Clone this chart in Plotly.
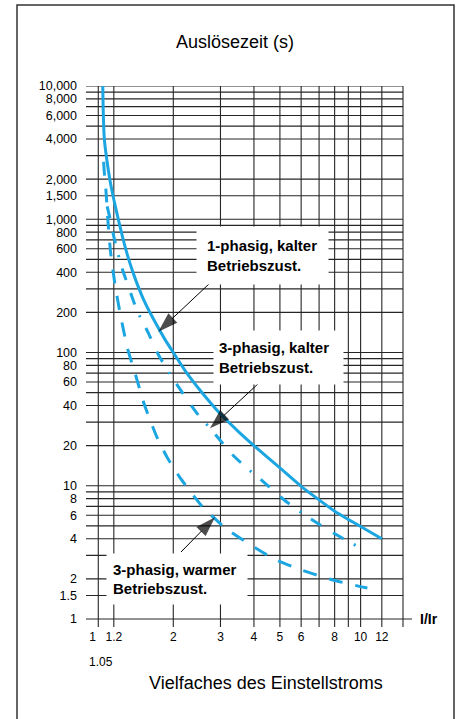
import plotly.graph_objects as go

# ---------------- data ----------------
# 1-phasig, kalter Betriebszustand (solid)
i_1ph_cold = [1.091, 1.096, 1.106, 1.129, 1.159, 1.199, 1.247, 1.299, 1.362, 1.443, 1.547,
              1.685, 1.859, 2.0, 2.244, 2.5, 3.0, 3.5, 4.0, 5.0, 6.0, 8.0, 10.0, 12.0]
t_1ph_cold = [10000, 6270, 4000, 2830, 2000, 1420, 1000, 711, 504, 357, 252,
              179, 126, 100, 70.3, 53, 34.5, 25.5, 20.0, 13.6, 9.9, 6.45, 4.95, 4.0]

# 3-phasig, kalter Betriebszustand (dash-dot)
i_3ph_cold = [1.133, 1.161, 1.2, 1.28, 1.364, 1.464, 1.623, 1.758, 1.928, 2.212, 2.474, 2.802,
              3.327, 3.758, 4.213, 5.2, 6.03, 7.15, 8.71, 10.3]
t_3ph_cold = [1250, 1018, 740, 445, 308, 207, 137, 96.6, 70.8, 46.7, 34.2, 25.7,
              17.1, 13.6, 11.3, 7.78, 6.27, 5.0, 3.96, 3.30]

# 3-phasig, warmer Betriebszustand (dashed)
i_3ph_warm = [1.10, 1.103, 1.122, 1.144, 1.166, 1.212, 1.271, 1.35, 1.446, 1.555, 1.731, 1.895,
              2.119, 2.57, 3.105, 3.834, 4.79, 6.07, 7.76, 9.99, 10.6]
t_3ph_warm = [2700, 2400, 1620, 900, 574, 324, 190, 107, 68, 41.4, 23.6, 16.4,
              11.5, 6.95, 4.88, 3.66, 2.8, 2.32, 1.98, 1.75, 1.71]

# grid and tick labels
y_grid = [1, 1.5, 2, 3, 4, 5, 6, 7, 8, 9,
          10, 20, 30, 40, 50, 60, 70, 80, 90,
          100, 200, 300, 400, 500, 600, 700, 800, 900,
          1000, 1500, 2000, 3000, 4000, 5000, 6000, 7000, 8000, 9000, 10000]
y_tick_vals = [1, 1.5, 2, 4, 6, 8, 10, 20, 40, 60, 80, 100, 200, 400, 600, 800,
               1000, 1500, 2000, 4000, 6000, 8000, 10000]
y_tick_text = ["1", "1.5", "2", "4", "6", "8", "10", "20", "40", "60", "80", "100", "200",
               "400", "600", "800", "1,000", "1,500", "2,000", "4,000", "6,000", "8,000", "10,000"]
x_grid = [1.05, 1.2, 2, 3, 4, 5, 6, 7, 8, 9, 10, 12]
x_tick_vals = [1, 1.2, 2, 3, 4, 5, 6, 8, 10, 12]
x_tick_text = ["1", "1.2", "2", "3", "4", "5", "6", "8", "10", "12"]

# ---------------- layout helpers ----------------
W, H = 459, 719
L, R, T, B = 86, 412, 86, 627          # plot area in pixels
x_range = [-0.02463, 1.19179]          # log10 units
y_range = [-0.06004, 4.0]
RIGHT_EDGE = (403 - L) / (R - L)       # right border of grid in paper units

def px(p):
    return (p - L) / (R - L)

def py(p):
    return (B - p) / (B - T)

def dx(p):
    return 10 ** (x_range[0] + (p - L) / (R - L) * (x_range[1] - x_range[0]))

def dy(p):
    return 10 ** (y_range[0] + (B - p) / (B - T) * (y_range[1] - y_range[0]))

BLUE = "#1ba6e2"
GRID = "#262626"
FONT = "Liberation Sans, Arial, sans-serif"

fig = go.Figure()

fig.add_trace(go.Scatter(x=i_1ph_cold, y=t_1ph_cold, mode="lines",
                         line=dict(color=BLUE, width=3, shape="spline", smoothing=0.5),
                         hoverinfo="skip", showlegend=False))
fig.add_trace(go.Scatter(x=i_3ph_cold, y=t_3ph_cold, mode="lines",
                         line=dict(color=BLUE, width=3, shape="spline", smoothing=0.5,
                                   dash="12px,14px,12px,12px,2px,12px"),
                         hoverinfo="skip", showlegend=False))
fig.add_trace(go.Scatter(x=i_3ph_warm, y=t_3ph_warm, mode="lines",
                         line=dict(color=BLUE, width=3, shape="spline", smoothing=0.5,
                                   dash="14px,13px"),
                         hoverinfo="skip", showlegend=False))

# arrows (start at label box, tip at curve)
arrows = [((210, 283), (158.3, 331.7)),
          ((260, 382), (210, 428.3)),
          ((181, 552), (215, 517.3))]
for (sx, sy), (tx, ty) in arrows:
    fig.add_trace(go.Scatter(
        x=[dx(sx), dx(tx)], y=[dy(sy), dy(ty)], mode="lines+markers",
        line=dict(color="black", width=1),
        marker=dict(symbol=["circle", "arrow"], size=[0, 21], color="black",
                    angleref="previous", line=dict(width=0)),
        hoverinfo="skip", showlegend=False, cliponaxis=False))

shapes = []
for v in y_grid:
    shapes.append(dict(type="line", xref="paper", yref="y", x0=0,
                       x1=1 if v == 1 else RIGHT_EDGE, y0=v, y1=v,
                       line=dict(color=GRID, width=1.1), layer="below"))
for v in x_grid:
    shapes.append(dict(type="line", xref="x", yref="paper", x0=v, x1=v, y0=0, y1=1,
                       line=dict(color=GRID, width=1.1), layer="below"))
shapes.append(dict(type="line", xref="paper", yref="paper", x0=RIGHT_EDGE, x1=RIGHT_EDGE,
                   y0=0, y1=1, line=dict(color=GRID, width=1.1), layer="below"))
# outer frame
shapes.append(dict(type="rect", xref="paper", yref="paper",
                   x0=px(17), x1=px(454), y0=py(725), y1=py(5),
                   line=dict(color="#333333", width=1.5), layer="below"))

def label(text, x, y, size, bold=False):
    return dict(text=f"<b>{text}</b>" if bold else text, x=px(x), y=py(y),
                xref="paper", yref="paper", xanchor="center", yanchor="middle",
                showarrow=False, font=dict(size=size, family=FONT, color="black"))

annotations = [
    label("Auslösezeit (s)", 235, 42, 18),
    label("Vielfaches des Einstellstroms", 266, 683, 18),
    label("1.05", 101, 662, 12),
    label("I/Ir", 429, 619, 14, bold=True),
]
boxes = [("<b>1-phasig, kalter<br>Betriebszust.</b>", 196, 226, 131, 57, 10),
         ("<b>3-phasig, kalter<br>Betriebszust.</b>", 213, 330, 129, 53, 5),
         ("<b>3-phasig, warmer<br>Betriebszust.</b>", 106, 553, 140, 50, 6)]
for text, bx, by, bw, bh, pad in boxes:
    annotations.append(dict(text=text, x=px(bx), y=py(by), xref="paper", yref="paper",
                            xanchor="left", yanchor="top", showarrow=False, align="left",
                            width=bw - 2 * pad, height=bh - 2 * pad, borderpad=pad,
                            bgcolor="white", font=dict(size=15, family=FONT, color="black")))

fig.update_layout(
    width=W, height=H,
    margin=dict(l=L, r=W - R, t=T, b=H - B, pad=0),
    paper_bgcolor="white", plot_bgcolor="rgba(0,0,0,0)",
    font=dict(family=FONT, color="black"),
    xaxis=dict(type="log", range=x_range, showgrid=False, zeroline=False, showline=False,
               tickmode="array", tickvals=x_tick_vals, ticktext=x_tick_text, ticks="",
               tickfont=dict(size=12, family=FONT, color="black"), ticklabelstandoff=1,
               automargin=False, fixedrange=True),
    yaxis=dict(type="log", range=y_range, showgrid=False, zeroline=False, showline=False,
               tickmode="array", tickvals=y_tick_vals, ticktext=y_tick_text, ticks="",
               tickfont=dict(size=12.5, family=FONT, color="black"), ticklabelstandoff=8,
               automargin=False, fixedrange=True),
    shapes=shapes, annotations=annotations,
)

fig.write_html("out.html", config={"displayModeBar": False},
               post_script="document.body.style.margin='0px';")
